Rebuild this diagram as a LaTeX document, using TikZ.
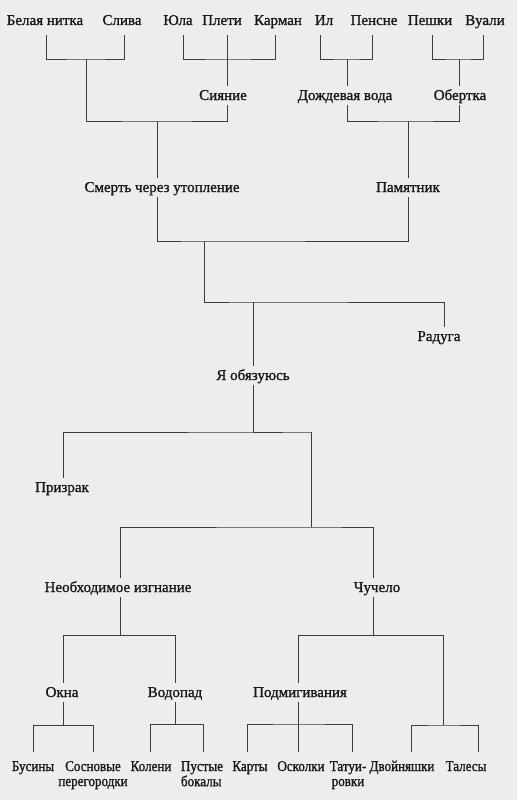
\documentclass[tikz,border=0pt]{standalone}
\usepackage{fontspec}
\setmainfont{Liberation Serif}[UprightFeatures={FakeBold=1.3}]
\newfontfamily\narrowfont{Liberation Serif}[UprightFeatures={FakeStretch=0.87,FakeBold=1.3}]
\definecolor{textc}{RGB}{25,25,25}
\definecolor{linec}{RGB}{60,60,60}
\definecolor{bgc}{RGB}{237,237,235}
\newcommand{\twoline}[2]{\begin{tabular}[t]{@{}c@{}}#1\\#2\end{tabular}}
\newcommand{\twolinel}[2]{\begin{tabular}[t]{@{}l@{}}#1\\#2\end{tabular}}
\begin{document}
\begin{tikzpicture}[x=1pt,y=-1pt,
  lbl/.style={inner xsep=0pt,inner ysep=0pt,text height=14pt,text depth=5pt,anchor=base,text=textc,font=\fontsize{15}{15}\selectfont},
  toprow/.style={lbl,text depth=10pt},
  botrow/.style={lbl,text height=19pt,font=\narrowfont\fontsize{15}{15}\selectfont},
  conn/.style={draw=linec,line width=0.95pt}]
\useasboundingbox (0,0) rectangle (517,800);
\fill[bgc] (0,0) rectangle (517,800);
% top row
\node[toprow] (bel) at (45,25) {Белая нитка};
\node[toprow] (sliva) at (122,25) {Слива};
\node[toprow] (yula) at (178,25) {Юла};
\node[toprow] (pleti) at (222,25) {Плети};
\node[toprow] (karman) at (278,25) {Карман};
\node[toprow] (il) at (324,25) {Ил};
\node[toprow] (pensne) at (374,25) {Пенсне};
\node[toprow] (peshki) at (430,25) {Пешки};
\node[toprow] (vuali) at (485,25) {Вуали};
% second row
\node[lbl] (siyanie) at (223,100) {Сияние};
\node[lbl] (dozhd) at (345,100) {Дождевая вода};
\node[lbl] (obertka) at (460,100) {Обертка};
% third row
\node[lbl] (smert) at (162,192) {Смерть через утопление};
\node[lbl] (pamyat) at (408,192) {Памятник};
% middle
\node[lbl] (raduga) at (439,341) {Радуга};
\node[lbl] (obyaz) at (253,380) {Я обязуюсь};
\node[lbl] (prizrak) at (62,492) {Призрак};
\node[lbl] (izgn) at (118,592) {Необходимое изгнание};
\node[lbl] (chuchelo) at (377,592) {Чучело};
\node[lbl] (okna) at (62,697) {Окна};
\node[lbl] (vodopad) at (175,697) {Водопад};
\node[lbl] (podmig) at (300,697) {Подмигивания};
% bottom row
\node[botrow] (busin) at (33,771) {Бусины};
\node[botrow] (sosn) at (93,771) {\twoline{Сосновые}{перегородки}};
\node[botrow] (koleni) at (151,771) {Колени};
\node[botrow] (pust) at (202,771) {\twolinel{Пустые}{бокалы}};
\node[botrow] (karty) at (250,771) {Карты};
\node[botrow] (oskolki) at (301,771) {Осколки};
\node[botrow] (tatu) at (348,771) {\twoline{Татуи-}{ровки}};
\node[botrow] (dvoin) at (402,771) {Двойняшки};
\node[botrow] (tales) at (466,771) {Талесы};
% junctions
\coordinate (jBS) at (86,59);
\coordinate (jYK) at (227,59);
\coordinate (jIP) at (347,59);
\coordinate (jPV) at (459,59);
\coordinate (jSm) at (157,121);
\coordinate (jPm) at (408,121);
\coordinate (jTop) at (204,241);
\coordinate (jRad) at (253,302);
\coordinate (jObz) at (311,432);
\coordinate (jNC) at (311,527);
\coordinate (jOV) at (120,635);
\coordinate (jPD) at (373,635);
\coordinate (jDT) at (443,725);
\coordinate (jOk) at (63,725);
\coordinate (jVd) at (175,724);
\coordinate (jPg) at (298,724);
% connectors, top part
\draw[conn] ([xshift=1pt]bel.south) |- (jBS) -| ([xshift=2pt]sliva.south);
\draw[conn] ([xshift=5pt]yula.south) |- (jYK) -| ([xshift=-3pt]karman.south);
\draw[conn] ([xshift=5pt]pleti.south) -- ([xshift=4pt]siyanie.north);
\draw[conn] ([xshift=-4pt]il.south) |- (jIP) -| ([xshift=-2pt]pensne.south);
\draw[conn] (jIP) -- ([xshift=2pt]dozhd.north);
\draw[conn] ([xshift=2pt]peshki.south) |- (jPV) -| ([xshift=-2pt]vuali.south);
\draw[conn] (jPV) -- ([xshift=-1pt]obertka.north);
\draw[conn] (jBS) |- (jSm) -| ([xshift=4pt]siyanie.south);
\draw[conn] (jSm) -- ([xshift=-5pt]smert.north);
\draw[conn] ([xshift=2pt]dozhd.south) |- (jPm) -| ([xshift=-1pt]obertka.south);
\draw[conn] (jPm) -- (pamyat.north);
% middle part
\draw[conn] ([xshift=-5pt]smert.south) |- (jTop) -| (pamyat.south);
\draw[conn] (jTop) |- (jRad) -| ([xshift=5pt]raduga.north);
\draw[conn] (jRad) -- (obyaz.north);
\draw[conn] (obyaz.south) |- (jObz) -| ([xshift=1pt]prizrak.north);
\draw[conn] (jObz) -- (jNC);
\draw[conn] ([xshift=2pt]izgn.north) |- (jNC) -| ([xshift=-4pt]chuchelo.north);
% lower part
\draw[conn] ([xshift=2pt]izgn.south) |- (jOV) -| (vodopad.north);
\draw[conn] (jOV) -| ([xshift=1pt]okna.north);
\draw[conn] ([xshift=-4pt]chuchelo.south) |- (jPD) -| ([xshift=-2pt]podmig.north);
\draw[conn] (jPD) -| (jDT);
\draw[conn] ([xshift=1pt]okna.south) |- (jOk) -| (sosn.north);
\draw[conn] (jOk) -| (busin.north);
\draw[conn] (vodopad.south) |- (jVd) -| ([xshift=1pt]pust.north);
\draw[conn] (jVd) -| ([xshift=-1pt]koleni.north);
\draw[conn] ([xshift=-2pt]podmig.south) -- ([xshift=-3pt]oskolki.north);
\draw[conn] ([xshift=-3pt]karty.north) |- (jPg) -| ([xshift=4pt]tatu.north);
\draw[conn] ([xshift=9pt]dvoin.north) |- (jDT) -| ([xshift=12pt]tales.north);
\end{tikzpicture}
\end{document}
